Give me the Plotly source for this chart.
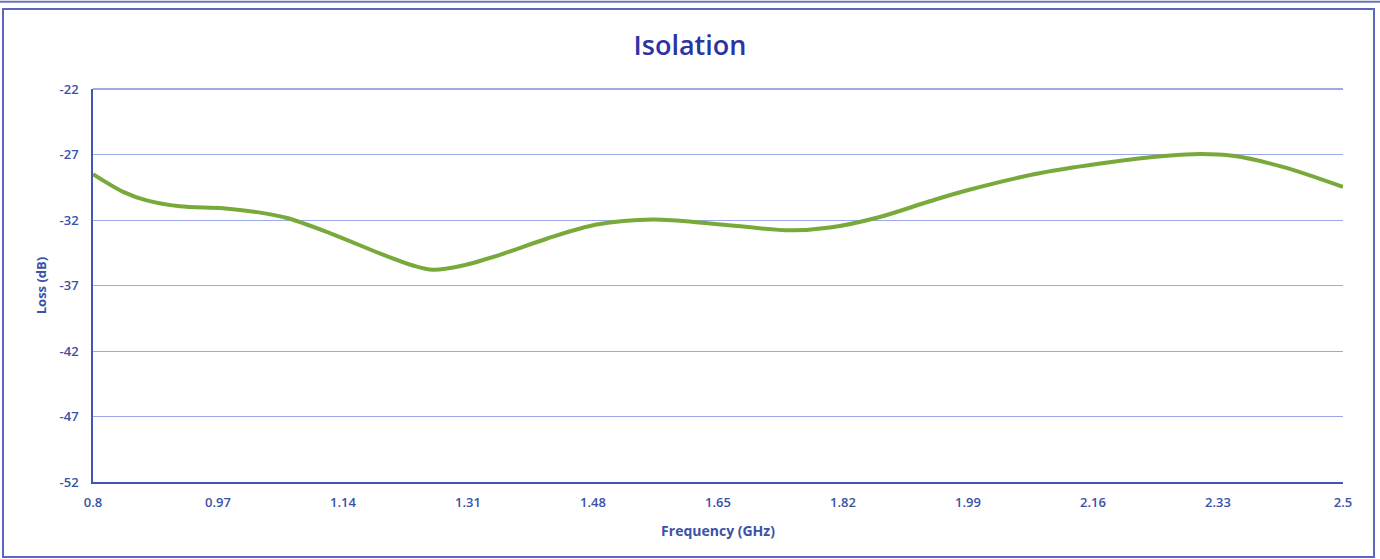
"""
Isolation chart: loss vs frequency
"""
import plotly.graph_objects as go

# frequency in GHz and loss in dB
freq_ghz = [0.800, 0.841, 0.873, 0.918, 0.977, 1.023, 1.064, 1.122, 1.190, 1.235,
            1.262, 1.303, 1.354, 1.417, 1.485, 1.562, 1.643, 1.748, 1.802, 1.870,
            1.938, 1.989, 2.078, 2.170, 2.261, 2.306, 2.350, 2.418, 2.500]
loss_db = [-28.5, -29.85, -30.5, -30.95, -31.1, -31.4, -31.85, -33.0, -34.55, -35.47,
           -35.8, -35.47, -34.65, -33.43, -32.35, -31.97, -32.28, -32.79, -32.58, -31.77,
           -30.57, -29.73, -28.53, -27.69, -27.1, -26.97, -27.1, -27.94, -29.47]

x_ticks = [0.8, 0.97, 1.14, 1.31, 1.48, 1.65, 1.82, 1.99, 2.16, 2.33, 2.5]
x_tick_text = ['0.8', '0.97', '1.14', '1.31', '1.48', '1.65', '1.82', '1.99', '2.16', '2.33', '2.5']
y_ticks = [-22, -27, -32, -37, -42, -47, -52]
y_tick_text = ['-22', '-27', '-32', '-37', '-42', '-47', '-52']

label_color = '#3b52a6'
grid_color = '#9aa8e6'
axis_color = '#4455b5'
frame_color = '#5a66c0'

fig = go.Figure()

fig.add_trace(go.Scatter(
    x=freq_ghz,
    y=loss_db,
    mode='lines',
    line=dict(color='#79a83b', width=4, shape='spline', smoothing=0.9),
    showlegend=False
))

# outer frame of the chart box (paper coords)
fig.add_shape(type='rect', xref='paper', yref='paper',
              x0=-0.072, x1=1.0248, y0=-0.191, y1=1.2036,
              line=dict(color=frame_color, width=2), layer='below')
fig.add_shape(type='line', xref='paper', yref='paper',
              x0=-0.08, x1=1.03, y0=1.222, y1=1.222,
              line=dict(color='#6a74b8', width=2))
# top border of plot area (at -22)
fig.add_shape(type='line', xref='paper', yref='paper',
              x0=0, x1=1, y0=1, y1=1,
              line=dict(color='#7f8fd8', width=1.5))

fig.update_layout(
    width=1380,
    height=559,
    margin=dict(l=93, r=37, t=89, b=77),
    paper_bgcolor='white',
    plot_bgcolor='white',
    font=dict(family='Open Sans, sans-serif', color=label_color),
    title=dict(text='Isolation', x=0.5, xanchor='center', y=0.918, yanchor='middle',
               font=dict(size=27, color='#2a35a3', family='Open Sans, sans-serif', weight=600)),
    xaxis=dict(
        range=[0.8, 2.5],
        tickmode='array',
        tickvals=x_ticks,
        ticktext=x_tick_text,
        showgrid=False,
        zeroline=False,
        showline=True,
        linecolor=axis_color,
        linewidth=1.5,
        ticks='outside',
        ticklen=8,
        tickcolor='white',
        tickfont=dict(size=13, color=label_color, weight=600),
        title=dict(text='Frequency (GHz)', standoff=16,
                   font=dict(size=14, color=label_color, weight=700))
    ),
    yaxis=dict(
        range=[-52, -22],
        tickmode='array',
        tickvals=y_ticks,
        ticktext=y_tick_text,
        showgrid=True,
        gridcolor=grid_color,
        gridwidth=1,
        zeroline=False,
        showline=True,
        linecolor=axis_color,
        linewidth=1.5,
        ticks='outside',
        ticklen=10,
        tickcolor='white',
        tickfont=dict(size=13, color=label_color, weight=600),
        title=dict(text='Loss (dB)', standoff=10,
                   font=dict(size=13, color=label_color, weight=700))
    )
)

# page body margin would shift the figure, drop it
fig.write_html("out.html", config={'displayModeBar': False},
               post_script="document.body.style.margin='0';")
